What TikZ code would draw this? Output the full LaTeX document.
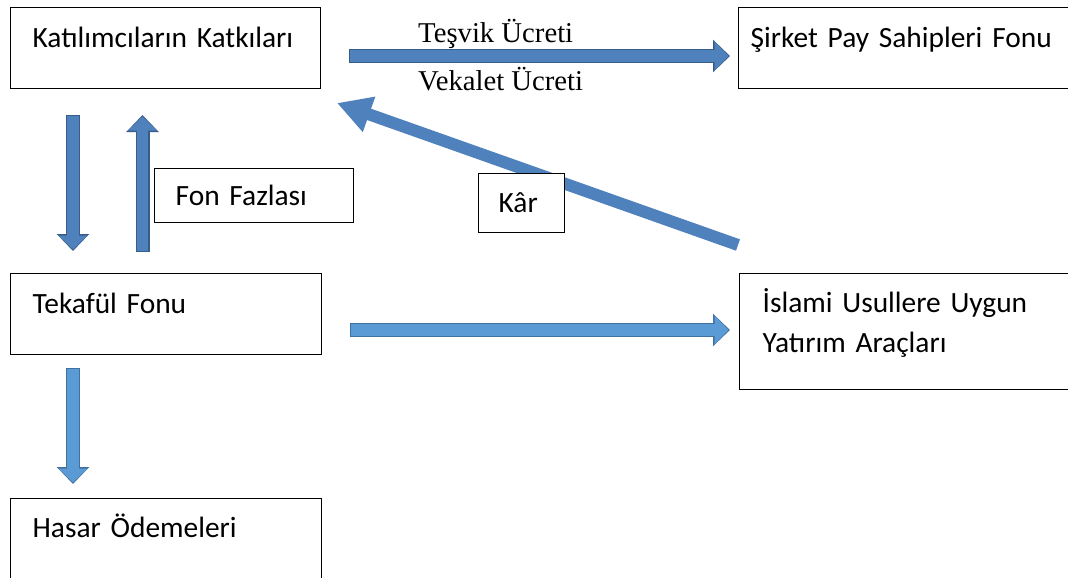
\documentclass[tikz,border=0pt]{standalone}
\usepackage{fontspec}
\setmainfont{Carlito}
\newfontfamily\feefont{Liberation Serif}
\usetikzlibrary{arrows.meta}

\definecolor{darkfill}{HTML}{4F81BD}
\definecolor{darkline}{HTML}{385D8A}
\definecolor{lightfill}{HTML}{5B9BD5}
\definecolor{lightline}{HTML}{41719C}

\tikzset{
	box/.style = {draw, line width=1.3pt, fill=white, anchor=north west, align=left,
		font=\fontsize{29.4pt}{40pt}\selectfont,
		text height=20pt, text depth=21pt, inner xsep=22pt, inner ysep=20pt},
	fee/.style = {anchor=base west, inner sep=0pt,
		font=\feefont\fontsize{28.7pt}{34pt}\selectfont},
	flow/.style = {line width=11.4pt, draw=#1fill, shorten >=1.5pt, shorten <=1.3pt,
		-{Triangle[width=28pt, length=14pt, color=#1fill]},
		preaction={draw=#1line, line width=14pt, shorten >=0pt, shorten <=0pt,
			-{Triangle[width=31.5pt, length=17pt, color=#1line]}}},
	gain/.style = {line width=12pt, draw=darkfill, -{Triangle[width=35pt, length=34pt]}}
}

\begin{document}
\begin{tikzpicture}[x=1pt, y=-1pt]
	\fill[white] (0,0) rectangle (1068,578);
	\useasboundingbox (0,0) rectangle (1068,578);
	\clip (0,0) rectangle (1068,578);
	% boxes
	\node[box, text width=266pt] (katki) at (10,7) {Katılımcıların Katkıları};
	\node[box, text width=316pt, inner xsep=12pt] (sirket) at (738,7) {Şirket Pay Sahipleri Fonu};
	\node[box, text width=157pt, inner xsep=21pt, inner ysep=17pt, text depth=0pt] (fazla) at (154,168) {Fon Fazlası};
	\node[box, text width=267pt] (tekaful) at (10,273) {Tekafül Fonu};
	\node[box, text width=294pt, inner xsep=23pt, inner ysep=19pt, text depth=58pt] (islami) at (739,273) {İslami Usullere Uygun\\Yatırım Araçları};
	\node[box, text width=267pt, inner ysep=19pt, text depth=60pt] (hasar) at (10,498) {Hasar Ödemeleri};
	% arrow ends
	\coordinate (feeA) at (349,56);
	\coordinate (feeB) at (730,56);
	\coordinate (inA) at (73,115);
	\coordinate (inB) at (73,251);
	\coordinate (backA) at (142.5,252);
	\coordinate (backB) at (142.5,115);
	\coordinate (gainA) at (738,245);
	\coordinate (gainB) at (337,103);
	\coordinate (investA) at (350,330);
	\coordinate (investB) at (730,330);
	\coordinate (claimA) at (73,368);
	\coordinate (claimB) at (73,484);
	\draw[flow=dark] (feeA) -- (feeB);
	\draw[flow=dark] (inA) -- (inB);
	\draw[flow=dark] (backA) -- (backB);
	\draw[gain] (gainA) -- (gainB);
	\draw[flow=light] (investA) -- (investB);
	\draw[flow=light] (claimA) -- (claimB);
	% labels
	\node[fee] (tesvik) at (418,43) {Teşvik Ücreti};
	\node[fee] (vekalet) at (418,91) {Vekalet Ücreti};
	\node[box, text width=46pt, inner xsep=20pt, inner ysep=19pt, text depth=1pt] (kar) at (478,173) {Kâr};
\end{tikzpicture}
\end{document}
